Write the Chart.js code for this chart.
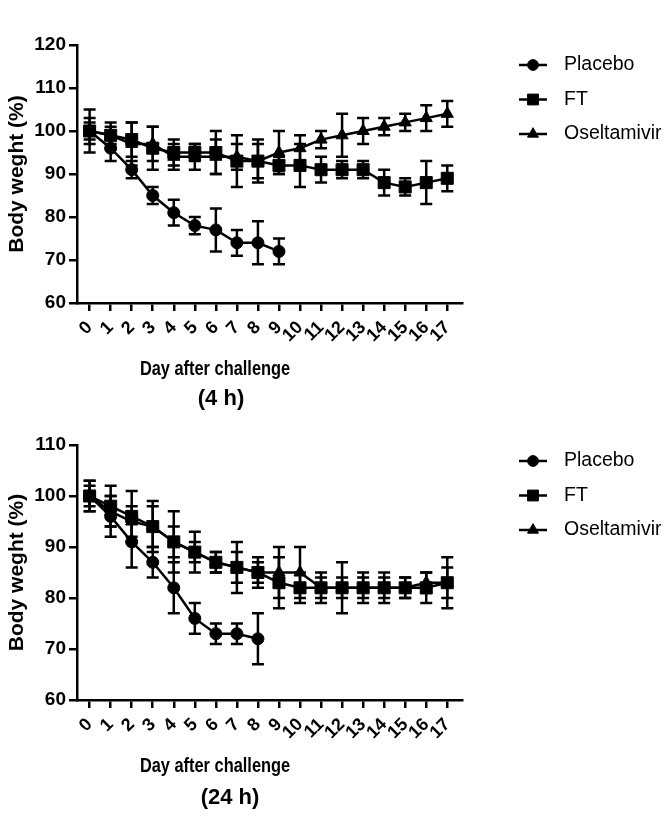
<!DOCTYPE html>
<html>
<head>
<meta charset="utf-8">
<script src="https://cdn.jsdelivr.net/npm/chart.js@4.4.1/dist/chart.umd.min.js"></script>
<style>
  html, body { margin: 0; padding: 0; background: #fff; }
  .panel { position: absolute; left: 0; width: 669px; height: 417px; }
</style>
</head>
<body>
<div class="panel" style="top:0"><canvas id="chart4h"></canvas></div>
<div class="panel" style="top:417px"><canvas id="chart24h"></canvas></div>
<script>
const days = [0, 1, 2, 3, 4, 5, 6, 7, 8, 9, 10, 11, 12, 13, 14, 15, 16, 17];
const dayLabels = days.map(String);
const yTicks4 = [60, 70, 80, 90, 100, 110, 120];
const yTicks24 = [60, 70, 80, 90, 100, 110];

// 4 h treatment
const placebo4 = [100, 96, 91, 85, 81, 78, 77, 74, 74, 72];
const placebo4Err = [5, 3, 2, 2, 3, 2, 5, 3, 5, 3];
const ft4 = [100, 99, 98, 96, 95, 95, 95, 93, 93, 92, 92, 91, 91, 91, 88, 87, 88, 89];
const ft4Err = [3, 3, 4, 5, 3, 2, 5, 6, 5, 2, 5, 3, 2, 2, 3, 2, 5, 3];
const osel4 = [100, 99, 97, 97, 94, 94, 94, 94, 93, 95, 96, 98, 99, 100, 101, 102, 103, 104];
const osel4Err = [2, 2, 5, 4, 3, 3, 4, 3, 4, 5, 3, 2, 5, 3, 2, 2, 3, 3];

// 24 h treatment
const placebo24 = [100, 96, 91, 87, 82, 76, 73, 73, 72];
const placebo24Err = [3, 4, 5, 3, 5, 3, 2, 2, 5];
const ft24 = [100, 98, 96, 94, 91, 89, 87, 86, 85, 83, 82, 82, 82, 82, 82, 82, 82, 83];
const ft24Err = [3, 4, 5, 5, 3, 2, 2, 5, 3, 5, 3, 3, 5, 3, 3, 2, 3, 5];
const osel24 = [100, 97, 95, 94, 91, 89, 87, 86, 85, 85, 85, 82, 82, 82, 82, 82, 83, 83];
const osel24Err = [2, 3, 3, 4, 6, 4, 2, 3, 2, 5, 5, 2, 2, 2, 2, 2, 2, 3];

const FONT = "'Liberation Sans', Arial, sans-serif";

function pts(values) {
  return values.map((v, i) => ({ x: days[i], y: v }));
}

function series(label, values, errors, style, radius) {
  return {
    label: label,
    data: pts(values),
    errors: errors,
    borderColor: "#000",
    borderWidth: 2.5,
    backgroundColor: "#000",
    pointStyle: style,
    pointRadius: radius,
    pointBackgroundColor: "#000",
    pointBorderColor: "#000",
    pointBorderWidth: 1,
    fill: false,
    tension: 0,
  };
}

// vertical SD bars with caps
const errorBars = {
  id: "errorBars",
  beforeDatasetsDraw(chart) {
    const ctx = chart.ctx;
    const ys = chart.scales.y;
    ctx.save();
    ctx.strokeStyle = "#000";
    ctx.lineWidth = 2.5;
    chart.data.datasets.forEach((ds, i) => {
      chart.getDatasetMeta(i).data.forEach((pt, j) => {
        const v = ds.data[j].y, e = ds.errors[j];
        const top = ys.getPixelForValue(v + e);
        const bot = ys.getPixelForValue(v - e);
        ctx.beginPath();
        ctx.moveTo(pt.x, top); ctx.lineTo(pt.x, bot);
        ctx.moveTo(pt.x - 6, top); ctx.lineTo(pt.x + 6, top);
        ctx.moveTo(pt.x - 6, bot); ctx.lineTo(pt.x + 6, bot);
        ctx.stroke();
      });
    });
    ctx.restore();
  },
};

function sideLegend(top) {
  return {
    id: "sideLegend",
    afterDraw(chart) {
      const ctx = chart.ctx;
      const mx = chart.chartArea.right + 71;
      ctx.save();
      chart.data.datasets.forEach((ds, i) => {
        const cy = top + i * 34.5;
        ctx.strokeStyle = "#000";
        ctx.fillStyle = "#000";
        ctx.lineWidth = 2.5;
        ctx.beginPath();
        ctx.moveTo(mx - 14, cy); ctx.lineTo(mx + 14, cy);
        ctx.stroke();
        ctx.lineWidth = 1;
        Chart.helpers.drawPoint(ctx, { pointStyle: ds.pointStyle, radius: ds.pointRadius * 0.9, rotation: 0, borderWidth: 1 }, mx, cy);
        ctx.font = "19.5px " + FONT;
        ctx.textAlign = "left";
        ctx.textBaseline = "middle";
        ctx.fillText(ds.label, mx + 31, cy);
      });
      ctx.restore();
    },
  };
}

// axis caption lines under the x axis; sx squeezes the text horizontally
function captions(lines) {
  return {
    id: "captions",
    afterDraw(chart) {
      const ctx = chart.ctx;
      lines.forEach(l => {
        ctx.save();
        ctx.fillStyle = "#000";
        ctx.textAlign = "center";
        ctx.textBaseline = "middle";
        ctx.font = l.font;
        ctx.translate(l.x, l.y);
        ctx.scale(l.sx || 1, 1);
        ctx.fillText(l.text, 0, 0);
        ctx.restore();
      });
    },
  };
}

function makeChart(id, datasets, yTicks, padTop, xAxisHeight, legendTop, caption) {
  return new Chart(document.getElementById(id), {
    type: "line",
    data: { datasets: datasets },
    plugins: [errorBars, sideLegend(legendTop), captions(caption)],
    options: {
      responsive: true,
      maintainAspectRatio: false,
      animation: false,
      layout: { padding: { left: 0, top: padTop, right: 207, bottom: 0 } },
      plugins: {
        legend: { display: false },
        tooltip: { enabled: false },
      },
      scales: {
        x: {
          type: "linear",
          min: -0.6,
          max: 17.7,
          afterBuildTicks: s => { s.ticks = days.map(d => ({ value: d })); },
          afterFit: s => { s.height = xAxisHeight; },
          ticks: {
            autoSkip: false,
            minRotation: 45,
            maxRotation: 45,
            padding: 6,
            color: "#000",
            font: { family: FONT, size: 18, weight: "bold" },
            callback: (v, i) => dayLabels[i],
          },
          grid: { drawOnChartArea: false, tickLength: 8, color: "#000", lineWidth: 2.5 },
          border: { color: "#000", width: 2.5 },
        },
        y: {
          min: yTicks[0],
          max: yTicks[yTicks.length - 1],
          afterBuildTicks: s => { s.ticks = yTicks.map(v => ({ value: v })); },
          afterFit: s => { s.width = 77; },
          ticks: {
            padding: 3,
            color: "#000",
            font: { family: FONT, size: 19, weight: "bold" },
          },
          grid: { drawOnChartArea: false, tickLength: 8, color: "#000", lineWidth: 2.5 },
          border: { color: "#000", width: 2.5 },
          title: {
            display: true,
            text: "Body weght (%)",
            color: "#000",
            padding: { top: 5, bottom: 0 },
            font: { family: FONT, size: 21, weight: "bold" },
          },
        },
      },
    },
  });
}

makeChart("chart4h", [
  series("Placebo", placebo4, placebo4Err, "circle", 6),
  series("FT", ft4, ft4Err, "rect", 8.5),
  series("Oseltamivir", osel4, osel4Err, "triangle", 7),
], yTicks4, 45, 114, 65, [
  { text: "Day after challenge", x: 215, y: 369, sx: 0.78, font: "bold 21px " + FONT },
  { text: "(4 h)", x: 221, y: 399, font: "bold 22px " + FONT },
]);

makeChart("chart24h", [
  series("Placebo", placebo24, placebo24Err, "circle", 6),
  series("FT", ft24, ft24Err, "rect", 8.5),
  series("Oseltamivir", osel24, osel24Err, "triangle", 7),
], yTicks24, 28, 134, 44, [
  { text: "Day after challenge", x: 215, y: 349, sx: 0.78, font: "bold 21px " + FONT },
  { text: "(24 h)", x: 230, y: 381, font: "bold 22px " + FONT },
]);
</script>
</body>
</html>
